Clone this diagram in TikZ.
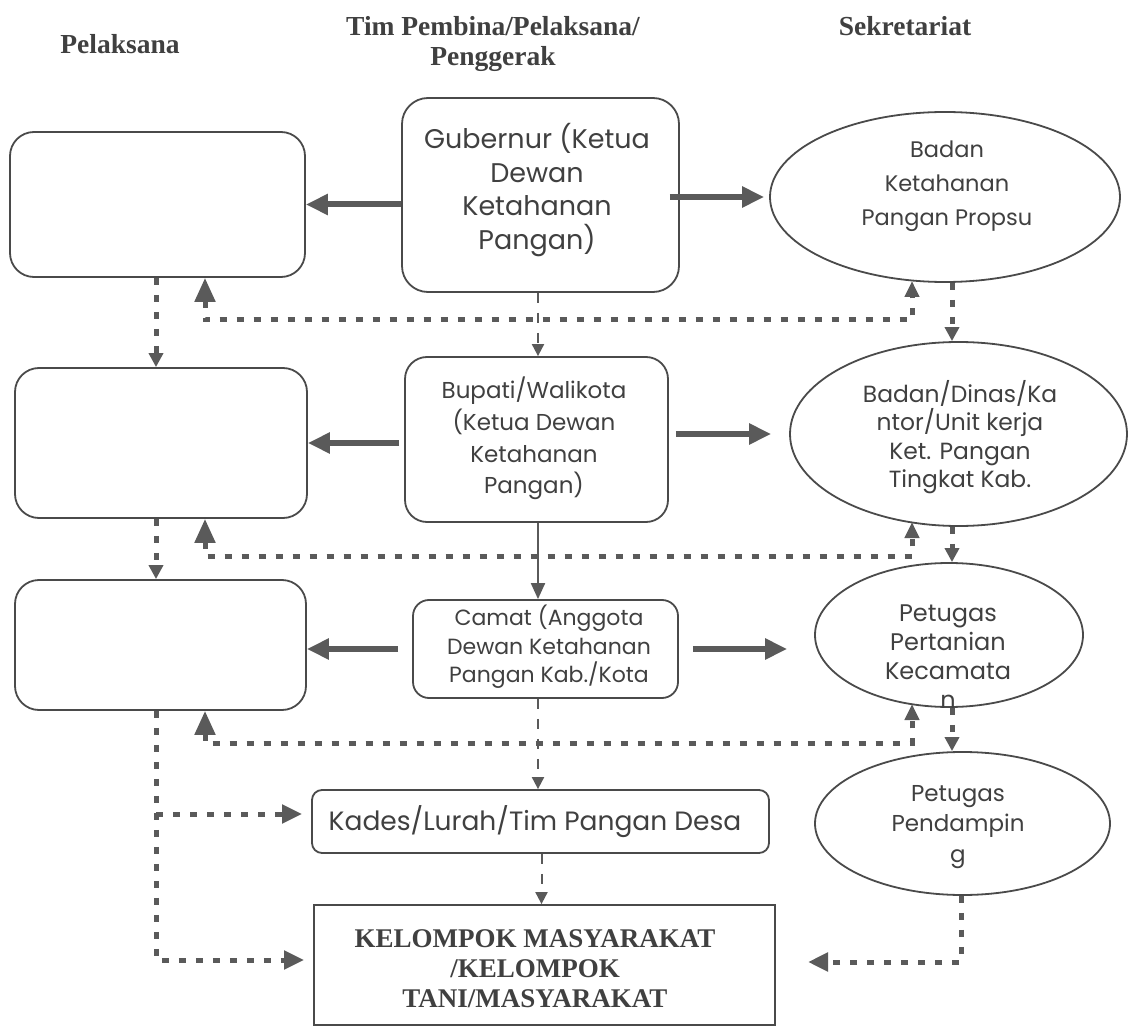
\documentclass[tikz,border=0pt]{standalone}
\usepackage{fontspec}
\setmainfont{Poppins}
\newfontfamily\hdfont{Liberation Serif}
\usetikzlibrary{arrows.meta,shapes.geometric}
\definecolor{ln}{HTML}{5A5A5A}
\definecolor{bd}{HTML}{4A4A4A}
\definecolor{tx}{HTML}{404040}
\tikzset{
 rbox/.style={draw=bd, line width=1.8pt, rounded corners=#1, inner sep=0pt},
 rbox/.default=22pt,
 ell/.style={draw=bd, line width=1.8pt, ellipse, inner sep=0pt},
 txt/.style={text=tx, align=center, inner sep=0pt},
 hd/.style={text=tx, align=center, inner sep=0pt, font=\hdfont\bfseries\fontsize{27.5}{29.5}\selectfont},
 thk/.style={draw=ln, line width=6pt, -{Triangle[length=22pt,width=20pt]}},
 dotl/.style={draw=ln, line width=5pt, dash pattern=on 7pt off 10pt},
 thn/.style={draw=ln, line width=2pt},
 dsh/.style={draw=ln, line width=2pt, dash pattern=on 10pt off 10pt},
}
\begin{document}
\begin{tikzpicture}[x=1pt,y=-1pt]
\fill[white] (0,0) rectangle (1128,1027);
\useasboundingbox (0,0) rectangle (1128,1027);

% headers
\node[hd] (hP) at (120,44) {Pelaksana};
\node[hd] (hT) at (493,44) {Tim Pembina/Pelaksana/\\Penggerak};
\node[hd] (hS) at (905,26) {Sekretariat};

% left column
\node[rbox=24pt, minimum width=295pt, minimum height=145pt] (L1) at (157.5,204.5) {};
\node[rbox=24pt, minimum width=292pt, minimum height=150pt] (L2) at (161,443) {};
\node[rbox=24pt, minimum width=291pt, minimum height=130pt] (L3) at (160.5,645) {};

% middle column
\node[rbox=26pt, minimum width=277pt, minimum height=194pt] (G) at (540.5,195) {};
\node[txt, font=\fontsize{27}{33.5}\selectfont] (Gt) at (537,190) {Gubernur (Ketua\\Dewan\\Ketahanan\\Pangan)};
\node[rbox=22pt, minimum width=263pt, minimum height=165pt] (B) at (536.5,439.5) {};
\node[txt, font=\fontsize{23}{31.7}\selectfont] (Bt) at (534,438.5) {Bupati/Walikota\\(Ketua Dewan\\Ketahanan\\Pangan)};
\node[rbox=16pt, minimum width=265pt, minimum height=98pt] (C) at (545.5,649) {};
\node[txt, font=\fontsize{22}{28.5}\selectfont] (Ct) at (549,647) {Camat (Anggota\\Dewan Ketahanan\\Pangan Kab./Kota};
\node[rbox=10pt, minimum width=457pt, minimum height=63pt] (K) at (540.5,821.5) {};
\node[txt, font=\fontsize{26.5}{30}\selectfont] (Kt) at (535,822) {Kades/Lurah/Tim Pangan Desa};
\node[draw=bd, line width=1.8pt, minimum width=461pt, minimum height=120pt, inner sep=0pt] (KEL) at (544.5,965) {};
\node[txt, font=\hdfont\bfseries\fontsize{27}{30}\selectfont] (KELt) at (535,969) {KELOMPOK MASYARAKAT\\/KELOMPOK\\TANI/MASYARAKAT};

% right column
\node[ell, minimum width=350pt, minimum height=170pt] (E1) at (945,197) {};
\node[txt, font=\fontsize{22.5}{34}\selectfont] (E1t) at (947,186) {Badan\\Ketahanan\\Pangan Propsu};
\node[ell, minimum width=337pt, minimum height=184pt] (E2) at (958.5,434) {};
\node[txt, font=\fontsize{23.4}{28.5}\selectfont] (E2t) at (960,437) {Badan/Dinas/Ka\\ntor/Unit kerja\\Ket. Pangan\\Tingkat Kab.};
\node[ell, minimum width=268pt, minimum height=144pt] (E3) at (949,635) {};
\node[txt, font=\fontsize{24}{29}\selectfont] (E3t) at (948,657) {Petugas\\Pertanian\\Kecamata\\n};
\node[ell, minimum width=295pt, minimum height=143pt] (E4) at (962.5,823.5) {};
\node[txt, font=\fontsize{23}{30.5}\selectfont] (E4t) at (958,827) {Petugas\\Pendampin\\g};

% thick arrows
\draw[thk] (G.west |- L1.east) -- (L1.east);
\draw[thk] ([xshift=-10pt]G.east |- E1.west) -- ([xshift=-5pt]E1.west);
\draw[thk] ([xshift=-5pt]B.west |- L2.east) -- (L2.east);
\draw[thk] ([xshift=7pt]B.east |- E2.west) -- ([xshift=-18pt]E2.west);
\draw[thk] ([xshift=-14pt]C.west) -- (L3.east |- C.west);
\draw[thk] ([xshift=14pt]C.east) -- ([xshift=-27pt]E3.west |- C.east);

% coordinates
\coordinate (lx) at (156,0);
\coordinate (cx) at (952,0);
\coordinate (mx) at (538,0);
\coordinate (p1) at (205,320); \coordinate (q1) at (912,320); \coordinate (e1b) at (912,281);
\coordinate (p2) at (205,556); \coordinate (q2) at (912,556); \coordinate (e2b) at (912,522);
\coordinate (p3) at (205,743); \coordinate (q3) at (912,743); \coordinate (e3b) at (912,704);
\coordinate (ka) at (156,814);
\coordinate (kb) at (156,960);
\coordinate (kc) at (961,962);
\coordinate (kd) at (808,962);

% dotted loops
\draw[dotl, {Triangle[length=24pt,width=20pt]}-{Triangle[length=16pt,width=14pt]}] (L1.south -| p1) -- (p1) -- (q1) -- (e1b);
\draw[dotl, {Triangle[length=24pt,width=20pt]}-{Triangle[length=16pt,width=14pt]}] (L2.south -| p2) -- (p2) -- (q2) -- (e2b);
\draw[dotl, {Triangle[length=24pt,width=20pt]}-{Triangle[length=16pt,width=14pt]}] (L3.south -| p3) -- (p3) -- (q3) -- (e3b);

% left dotted verticals
\draw[dotl, -{Triangle[length=14pt,width=14pt]}] (L1.south -| lx) -- (L2.north -| lx);
\draw[dotl, -{Triangle[length=14pt,width=14pt]}] (L2.south -| lx) -- (L3.north -| lx);
\draw[dotl, -{Triangle[length=20pt,width=18pt]}] (L3.south -| lx) -- (kb) -- ([xshift=-9pt]kb -| KEL.west);
\draw[dotl, -{Triangle[length=20pt,width=18pt]}] (ka) -- ([xshift=-9pt]ka -| K.west);

% right dotted verticals
\draw[dotl, -{Triangle[length=14pt,width=14pt]}] (E1.south -| cx) -- (E2.north -| cx);
\draw[dotl, -{Triangle[length=14pt,width=14pt]}] (E2.south -| cx) -- (E3.north -| cx);
\draw[dotl, -{Triangle[length=14pt,width=14pt]}] (E3.south -| cx) -- (E4.north -| cx);
\draw[dotl, -{Triangle[length=20pt,width=18pt]}] (E4.south -| kc) -- (kc) -- (kd);

% thin middle verticals
\draw[dsh, -{Triangle[length=12pt,width=12pt]}] (G.south -| mx) -- (B.north -| mx);
\draw[thn, -{Triangle[length=16pt,width=14pt]}] (B.south -| mx) -- (C.north -| mx);
\draw[dsh, -{Triangle[length=12pt,width=12pt]}] (C.south -| mx) -- (K.north -| mx);
\draw[dsh, -{Triangle[length=12pt,width=12pt]}] ([xshift=1pt]K.south) -- ([xshift=1pt]K.south |- KEL.north);
\end{tikzpicture}
\end{document}
